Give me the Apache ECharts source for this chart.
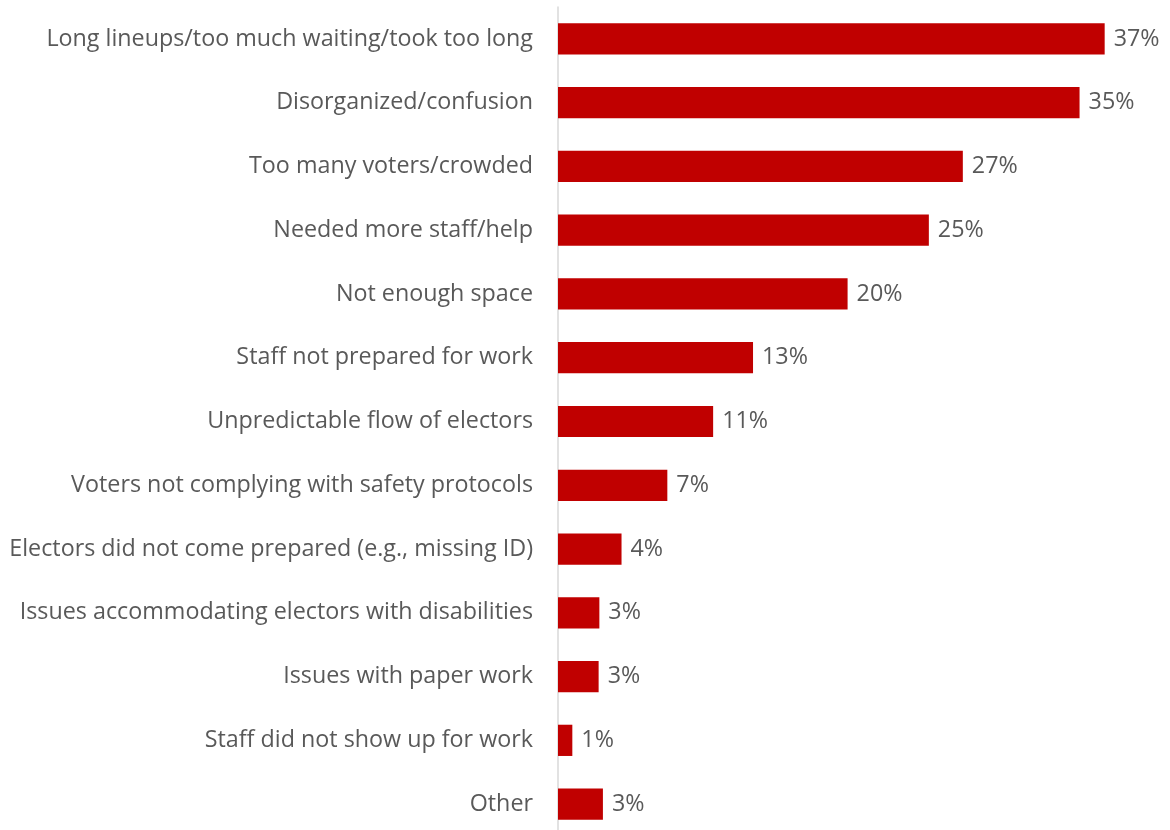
<!DOCTYPE html>
<html>
<head>
<meta charset="utf-8">
<script src="https://cdn.jsdelivr.net/npm/echarts@6/dist/echarts.min.js"></script>
<style>
  html, body { margin: 0; padding: 0; background: #ffffff; }
  #chart { width: 1170px; height: 830px; }
</style>
</head>
<body>
<div id="chart"></div>
<script>
// Reported problems at polling stations, share of respondents (%)
const categories = [
  'Long lineups/too much waiting/took too long',
  'Disorganized/confusion',
  'Too many voters/crowded',
  'Needed more staff/help',
  'Not enough space',
  'Staff not prepared for work',
  'Unpredictable flow of electors',
  'Voters not complying with safety protocols',
  'Electors did not come prepared (e.g., missing ID)',
  'Issues accommodating electors with disabilities',
  'Issues with paper work',
  'Staff did not show up for work',
  'Other'
];
const shares = [37.0, 35.3, 27.4, 25.1, 19.6, 13.2, 10.5, 7.4, 4.3, 2.8, 2.75, 0.97, 3.04];

const FONT = '"Open Sans"';
const TEXT = '#595959';

const chart = echarts.init(document.getElementById('chart'), null, { renderer: 'canvas' });
chart.setOption({
  animation: false,
  backgroundColor: '#ffffff',
  grid: {
    left: 558, width: 591, top: 7, height: 829,
    containLabel: false,
    outerBoundsMode: 'none'
  },
  xAxis: {
    type: 'value',
    min: 0,
    max: 40,
    show: false
  },
  yAxis: {
    type: 'category',
    data: categories,
    inverse: true,
    axisLine: { show: true, lineStyle: { color: '#d9d9d9', width: 1.5 } },
    axisTick: { show: false },
    axisLabel: {
      margin: 25,
      color: TEXT,
      fontFamily: FONT,
      fontSize: 23.3,
      padding: [4, 0, 0, 0]
    }
  },
  series: [{
    type: 'bar',
    data: shares,
    barWidth: '49%',
    itemStyle: { color: '#c00000' },
    label: {
      show: true,
      position: 'right',
      distance: 9,
      color: TEXT,
      fontFamily: FONT,
      fontSize: 23.3,
      padding: [4, 0, 0, 0],
      formatter: p => Math.round(p.value) + '%'
    }
  }]
});
</script>
</body>
</html>
